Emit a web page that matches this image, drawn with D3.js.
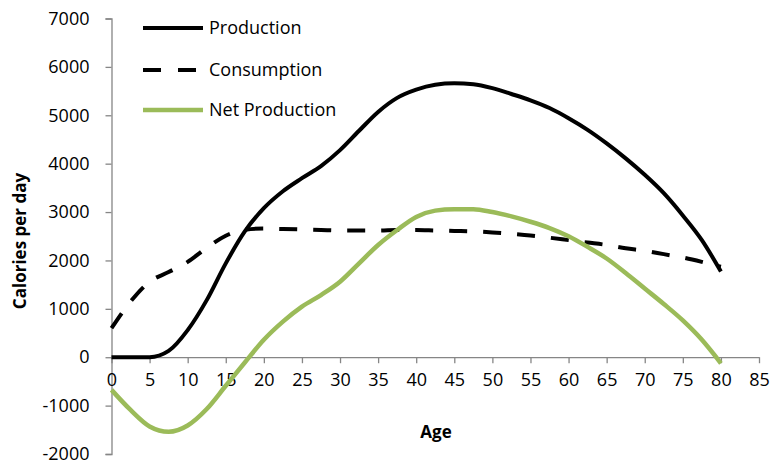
<!DOCTYPE html>
<html>
<head>
<meta charset="utf-8">
<script src="https://cdn.jsdelivr.net/npm/d3@7"></script>
<style>
  html, body { margin: 0; padding: 0; background: #fff; }
  svg { display: block; font-family: "Open Sans", "Liberation Sans", sans-serif; }
</style>
</head>
<body>
<svg id="chart" width="780" height="471"></svg>
<script>
// ---- data ----
const ages = [0, 2.5, 5, 7.5, 10, 12.5, 15, 17.5, 20, 22.5, 25, 27.5, 30, 32.5, 35, 37.5, 40,
              42.5, 45, 47.5, 50, 52.5, 55, 57.5, 60, 62.5, 65, 67.5, 70, 72.5, 75, 77.5, 80];
const production = [0, 0, 0, 130, 560, 1180, 1940, 2600, 3080, 3430, 3700, 3950, 4280, 4680, 5070, 5360, 5530,
                    5630, 5660, 5640, 5560, 5440, 5310, 5150, 4940, 4700, 4420, 4110, 3770, 3390, 2930, 2420, 1770];
const consumption = [600, 1150, 1560, 1760, 1970, 2260, 2510, 2635, 2660, 2650, 2640, 2630, 2620, 2620, 2620, 2630, 2630,
                     2620, 2610, 2600, 2580, 2550, 2515, 2470, 2420, 2370, 2320, 2250, 2200, 2130, 2060, 1970, 1870];
const netProduction = [-675, -1090, -1430, -1540, -1410, -1070, -590, -110, 360, 735, 1045, 1285, 1560, 1940, 2320, 2630, 2900,
                       3030, 3060, 3060, 3000, 2910, 2800, 2670, 2500, 2280, 2040, 1740, 1420, 1100, 760, 360, -125];
const xTicks = [0, 5, 10, 15, 20, 25, 30, 35, 40, 45, 50, 55, 60, 65, 70, 75, 80, 85];
const yTicks = [-2000, -1000, 0, 1000, 2000, 3000, 4000, 5000, 6000, 7000];
const seriesNames = ["Production", "Consumption", "Net Production"];

// ---- layout ----
const svg = d3.select("#chart");
const x = d3.scaleLinear().domain([0, 85]).range([111.5, 759]);
const y = d3.scaleLinear().domain([-2000, 7000]).range([454, 18.5]);
const axisColor = "#868686";

// y axis
const yAxis = svg.append("g").attr("transform", `translate(${x(0)},0)`)
  .call(d3.axisLeft(y).tickValues(yTicks).tickSize(6).tickPadding(16).tickFormat(d => String(d)));
yAxis.select(".domain").attr("stroke", axisColor).attr("stroke-width", 1.3);
yAxis.selectAll(".tick line").attr("stroke", axisColor).attr("stroke-width", 1.3);
yAxis.selectAll(".tick text").attr("font-size", 18).attr("fill", "#000")
  .attr("font-family", "'Open Sans', sans-serif");

// x axis at y=0
const xAxis = svg.append("g").attr("transform", `translate(0,${y(0)})`)
  .call(d3.axisBottom(x).tickValues(xTicks).tickSize(6).tickPadding(10).tickSizeOuter(0).tickFormat(d => String(d)));
xAxis.select(".domain").attr("stroke", axisColor).attr("stroke-width", 1.3);
xAxis.selectAll(".tick line").attr("stroke", axisColor).attr("stroke-width", 1.3);
xAxis.selectAll(".tick text").attr("font-size", 18).attr("fill", "#000")
  .attr("font-family", "'Open Sans', sans-serif");

// axis titles
svg.append("text").attr("x", 436).attr("y", 438).attr("text-anchor", "middle")
  .attr("font-size", 17).attr("font-weight", "bold").text("Age");
svg.append("text").attr("transform", "translate(26,241) rotate(-90)").attr("text-anchor", "middle")
  .attr("font-size", 17).attr("font-weight", "bold").text("Calories per day");

// lines
const mk = vals => d3.line().x((d, i) => x(ages[i])).y(d => y(d)).curve(d3.curveMonotoneX)(vals);
const styles = [
  { vals: production, color: "#000", width: 4, dash: null },
  { vals: consumption, color: "#000", width: 4, dash: "18,16" },
  { vals: netProduction, color: "#9BBB59", width: 4.5, dash: null }
];
styles.forEach(s => {
  svg.append("path").attr("d", mk(s.vals)).attr("fill", "none")
    .attr("stroke", s.color).attr("stroke-width", s.width)
    .attr("stroke-dasharray", s.dash).attr("stroke-linejoin", "round");
});

// legend
const legY = [28, 70, 110];
styles.forEach((s, i) => {
  svg.append("line").attr("x1", 143).attr("x2", 203).attr("y1", legY[i]).attr("y2", legY[i])
    .attr("stroke", s.color).attr("stroke-width", s.width).attr("stroke-dasharray", s.dash ? "18,17" : null);
  svg.append("text").attr("x", 209).attr("y", legY[i]).attr("dy", "0.35em")
    .attr("font-size", 18).text(seriesNames[i]);
});
</script>
</body>
</html>
